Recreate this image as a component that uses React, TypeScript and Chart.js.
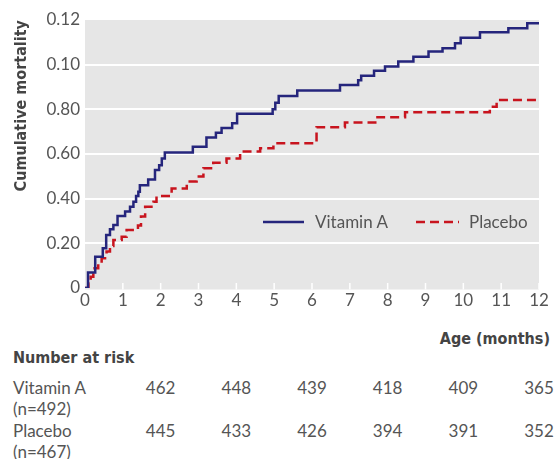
import React, { useEffect, useRef, useState } from "react";
import { Chart, registerables } from "chart.js";

Chart.register(...registerables);

// ---- data ----
const vitaminATimes = [0, 0.08, 0.27, 0.47, 0.56, 0.66, 0.75, 0.86, 1.06, 1.19, 1.28, 1.35, 1.41, 1.45, 1.67, 1.85, 1.96, 2.03, 2.11, 2.85, 3.21, 3.46, 3.61, 3.89, 4.02, 4.96, 5.03, 5.12, 5.61, 6.74, 7.22, 7.3, 7.64, 7.93, 8.28, 8.68, 9.08, 9.45, 9.78, 9.93, 10.44, 11.19, 11.69, 12];
const vitaminAValues = [0, 0.0069, 0.014, 0.0178, 0.0237, 0.0263, 0.0282, 0.0322, 0.0342, 0.0364, 0.0386, 0.0412, 0.0431, 0.046, 0.0486, 0.0528, 0.055, 0.058, 0.0607, 0.0632, 0.0674, 0.0695, 0.0716, 0.0738, 0.078, 0.08, 0.083, 0.086, 0.0884, 0.0909, 0.093, 0.095, 0.0973, 0.0992, 0.1014, 0.1036, 0.1059, 0.1074, 0.1096, 0.1121, 0.1145, 0.1163, 0.1186, 0.1186];

const placeboTimes = [0, 0.09, 0.15, 0.22, 0.35, 0.44, 0.57, 0.66, 0.75, 0.97, 1.1, 1.4, 1.48, 1.59, 1.81, 1.89, 2.29, 2.69, 2.95, 3.13, 3.39, 3.74, 4.1, 4.63, 4.98, 6.12, 6.87, 7.73, 8.46, 10.7, 10.88, 12];
const placeboValues = [0, 0.002, 0.005, 0.0088, 0.011, 0.0133, 0.0163, 0.0188, 0.0215, 0.023, 0.026, 0.028, 0.032, 0.0364, 0.0386, 0.0412, 0.0445, 0.0477, 0.0499, 0.0536, 0.0561, 0.058, 0.0611, 0.0626, 0.0648, 0.072, 0.0741, 0.0765, 0.0787, 0.0812, 0.0842, 0.0842];

const yTickValues = [0, 0.02, 0.04, 0.06, 0.08, 0.1, 0.12];
const yTickLabels = ["0", "0.20", "0.40", "0.60", "0.80", "0.10", "0.12"];
const xTickValues = [0, 1, 2, 3, 4, 5, 6, 7, 8, 9, 10, 11, 12];

const seriesNames = ["Vitamin A", "Placebo"];
const seriesCounts = ["(n=492)", "(n=467)"];
const riskMonths = [2, 4, 6, 8, 10, 12];
const riskVitaminA = [462, 448, 439, 418, 409, 365];
const riskPlacebo = [445, 433, 426, 394, 391, 352];

// ---- styles ----
const BLUE = "#25257c";
const RED = "#c8141e";
const GREY_BG = "#e6e6e6";
const TEXT = "#555555";
const BOLD_TEXT = "#444444";
const REG_FONT = "Lato, 'Open Sans', sans-serif";
const BOLD_FONT = "'DejaVu Sans Condensed', 'Liberation Sans Narrow', 'DejaVu Sans', sans-serif";

const bgPlugin = {
  id: "bgPlugin",
  beforeDraw(chart: any) {
    const { ctx, chartArea } = chart;
    ctx.save();
    ctx.fillStyle = GREY_BG;
    ctx.fillRect(chartArea.left, chartArea.top, chartArea.right - chartArea.left, chartArea.bottom - chartArea.top + 1.5);
    ctx.restore();
  },
  beforeDatasetsDraw(chart: any) {
    const { ctx, chartArea, scales } = chart;
    ctx.save();
    ctx.strokeStyle = "#ffffff";
    ctx.lineWidth = 1.5;
    xTickValues.forEach((v) => {
      if (v === 0) return;
      const x = scales.x.getPixelForValue(v);
      ctx.beginPath();
      ctx.moveTo(x, chartArea.bottom - 5);
      ctx.lineTo(x, chartArea.bottom + 1.5);
      ctx.stroke();
    });
    ctx.restore();
  },
};

export default function App() {
  const canvasRef = useRef<HTMLCanvasElement | null>(null);
  const [riskX, setRiskX] = useState<number[]>(riskMonths.map((m) => 85 + m * 37.8));

  useEffect(() => {
    if (!canvasRef.current) return;
    const chart = new Chart(canvasRef.current, {
      type: "line",
      data: {
        datasets: [
          {
            label: seriesNames[0],
            data: vitaminATimes.map((t, i) => ({ x: t, y: vitaminAValues[i] })),
            borderColor: BLUE,
            borderWidth: 2.5,
            stepped: "before",
            pointRadius: 0,
            fill: false,
          },
          {
            label: seriesNames[1],
            data: placeboTimes.map((t, i) => ({ x: t, y: placeboValues[i] })),
            borderColor: RED,
            borderWidth: 2.5,
            borderDash: [9, 5],
            stepped: "before",
            pointRadius: 0,
            fill: false,
          },
        ],
      },
      options: {
        animation: false,
        responsive: false,
        layout: { padding: { left: 0, right: 15, top: 20, bottom: 0 } },
        plugins: { legend: { display: false }, tooltip: { enabled: false } },
        scales: {
          x: {
            type: "linear",
            min: 0,
            max: 12,
            afterBuildTicks: (scale: any) => {
              scale.ticks = xTickValues.map((v) => ({ value: v }));
            },
            afterFit: (scale: any) => {
              scale.height = 32;
            },
            ticks: {
              color: TEXT,
              font: { family: REG_FONT, size: 17 },
              padding: 2,
              maxRotation: 0,
              autoSkip: false,
            },
            grid: { display: false, drawTicks: false },
            border: { display: false },
          },
          y: {
            min: 0,
            max: 0.12,
            afterBuildTicks: (scale: any) => {
              scale.ticks = yTickValues.map((v) => ({ value: v }));
            },
            afterFit: (scale: any) => {
              scale.width = 85;
            },
            ticks: {
              color: TEXT,
              font: { family: REG_FONT, size: 17 },
              padding: 5,
              callback: (value: any) => {
                const i = yTickValues.findIndex((v) => Math.abs(v - Number(value)) < 1e-9);
                return i >= 0 ? yTickLabels[i] : "";
              },
            },
            grid: {
              drawTicks: false,
              lineWidth: 2,
              color: (ctx: any) => {
                const v = ctx.tick ? ctx.tick.value : 0;
                return v > 1e-9 && v < 0.12 - 1e-9 ? "#ffffff" : "rgba(0,0,0,0)";
              },
            },
            border: { display: false },
            title: {
              display: true,
              text: "Cumulative mortality",
              align: "end",
              color: BOLD_TEXT,
              font: { family: BOLD_FONT, size: 16, weight: "bold" },
              padding: { top: 12, bottom: 0 },
            },
          },
        },
      },
      plugins: [bgPlugin],
    });
    const xs = chart.scales.x;
    setRiskX(riskMonths.map((m) => xs.getPixelForValue(m)));
    return () => chart.destroy();
  }, []);

  const regText = (extra: React.CSSProperties): React.CSSProperties => ({
    position: "absolute",
    fontFamily: REG_FONT,
    fontSize: 17,
    color: TEXT,
    lineHeight: "20px",
    whiteSpace: "nowrap",
    ...extra,
  });
  const boldText = (extra: React.CSSProperties): React.CSSProperties => ({
    position: "absolute",
    fontFamily: BOLD_FONT,
    fontSize: 16,
    fontWeight: "bold",
    color: BOLD_TEXT,
    lineHeight: "20px",
    whiteSpace: "nowrap",
    ...extra,
  });

  const rowsY = [388, 431];
  const countsY = [409, 452];
  const riskRows = [riskVitaminA, riskPlacebo];

  return (
    <div style={{ position: "absolute", left: 0, top: 0, width: 554, height: 459, background: "#fff", overflow: "hidden" }}>
      <canvas ref={canvasRef} width={554} height={320} style={{ position: "absolute", left: 0, top: 0, width: 554, height: 320 }} />

      {/* legend */}
      <svg style={{ position: "absolute", left: 263, top: 217 }} width={42} height={10}>
        <line x1={0} y1={5} x2={41} y2={5} stroke={BLUE} strokeWidth={2.5} />
      </svg>
      <div style={regText({ left: 315, top: 212 })}>{seriesNames[0]}</div>
      <svg style={{ position: "absolute", left: 416, top: 217 }} width={44} height={10}>
        <line x1={0} y1={5} x2={43} y2={5} stroke={RED} strokeWidth={2.5} strokeDasharray="9 5" />
      </svg>
      <div style={regText({ left: 469, top: 212 })}>{seriesNames[1]}</div>

      {/* x title */}
      <div style={boldText({ right: 4, top: 329 })}>Age (months)</div>

      {/* number at risk table */}
      <div style={boldText({ left: 13, top: 348 })}>Number at risk</div>
      {seriesNames.map((name, r) => (
        <React.Fragment key={name}>
          <div style={regText({ left: 13, top: rowsY[r] - 10 })}>{name}</div>
          <div style={regText({ left: 13, top: countsY[r] - 10 })}>{seriesCounts[r]}</div>
          {riskRows[r].map((n, i) => (
            <div key={i} style={regText({ left: riskX[i] - 40, width: 80, textAlign: "center", top: rowsY[r] - 10 })}>
              {n}
            </div>
          ))}
        </React.Fragment>
      ))}
    </div>
  );
}
